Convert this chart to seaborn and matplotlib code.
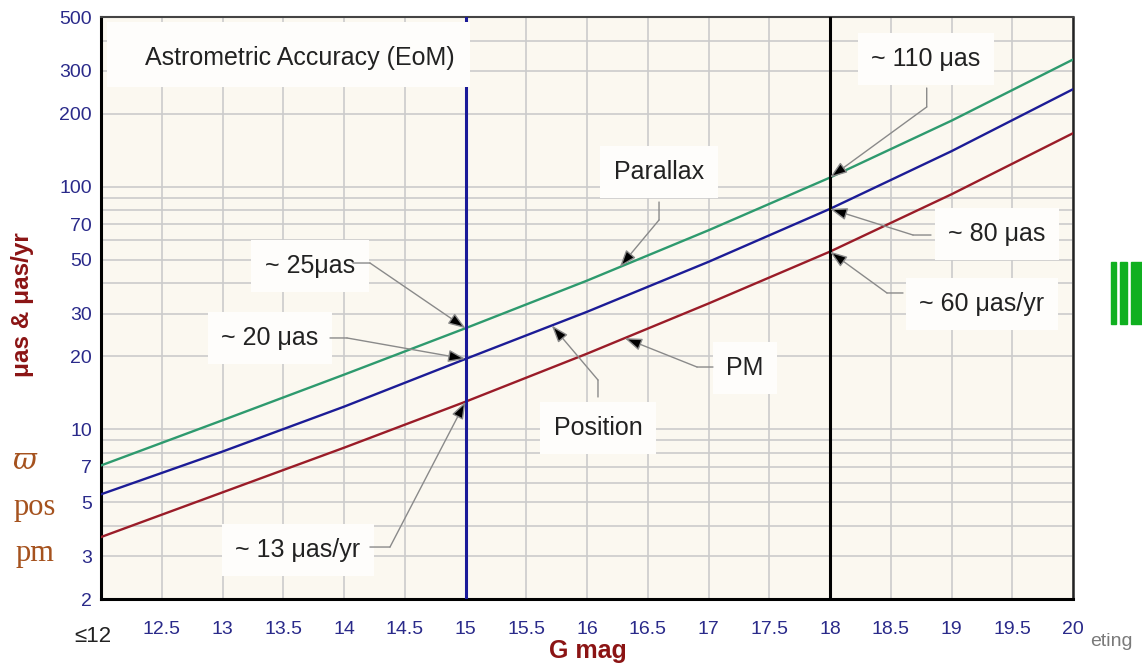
import numpy as np
import pandas as pd
import matplotlib
matplotlib.use("Agg")
import matplotlib.pyplot as plt
from matplotlib.patches import Rectangle
from matplotlib.ticker import FixedLocator, NullFormatter
import seaborn as sns

# ---------------- data ----------------
g_mag = [12, 13, 14, 15, 16, 17, 18, 19, 20]
parallax = [7.1, 10.9, 16.8, 26.1, 41, 66.1, 109, 187, 334]
position = [5.4, 8.1, 12.4, 19.5, 30.5, 49, 81, 140, 252]
proper_motion = [3.6, 5.5, 8.4, 13, 20.5, 33, 54, 93, 166]

series_names = ["Parallax", "Position", "PM"]
series_colors = ["#2e9a6e", "#1c1c96", "#9a1c28"]

y_ticks = [2, 3, 5, 7, 10, 20, 30, 50, 70, 100, 200, 300, 500]
x_ticks = [12, 12.5, 13, 13.5, 14, 14.5, 15, 15.5, 16, 16.5, 17, 17.5, 18, 18.5, 19, 19.5, 20]
x_tick_labels = [""] + ["12.5", "13", "13.5", "14", "14.5", "15", "15.5", "16", "16.5",
                        "17", "17.5", "18", "18.5", "19", "19.5", "20"]
mark_blue_g = 15
mark_black_g = 18

df = pd.DataFrame({
    "G": g_mag * 3,
    "sigma": parallax + position + proper_motion,
    "quantity": ["Parallax"] * len(g_mag) + ["Position"] * len(g_mag) + ["PM"] * len(g_mag),
})
series_values = {"Parallax": parallax, "Position": position, "PM": proper_motion}

# ---------------- figure ----------------
sns.set_theme(style="white")
plt.rcParams["font.family"] = ["Liberation Sans", "DejaVu Sans"]

fig = plt.figure(figsize=(11.42, 6.63), dpi=100)
fig.patch.set_facecolor("white")
ax = fig.add_axes([101 / 1142, 1 - 599 / 663, 972 / 1142, 582 / 663])
ax.set_facecolor("#fbf8f0")

sns.lineplot(data=df, x="G", y="sigma", hue="quantity", hue_order=series_names,
             palette=series_colors, legend=False, ax=ax, linewidth=1.7, zorder=3)

ax.set_yscale("log")
ax.set_xlim(12, 20)
ax.set_ylim(2, 500)

ax.yaxis.set_major_locator(FixedLocator(y_ticks))
ax.set_yticklabels([str(v) for v in y_ticks])
minor = [v * d for d in (1, 10, 100) for v in range(2, 10) if v * d <= 500]
ax.yaxis.set_minor_locator(FixedLocator(minor))
ax.yaxis.set_minor_formatter(NullFormatter())
ax.set_xticks(x_ticks)
ax.set_xticklabels(x_tick_labels)

ax.grid(True, which="both", axis="y", color="#cbcbcb", lw=1.2, zorder=0)
ax.grid(True, which="major", axis="x", color="#cbcbcb", lw=1.2, zorder=0)
ax.set_axisbelow(True)

tick_col = "#2a2a8a"
ax.tick_params(axis="both", which="both", length=0, labelcolor=tick_col, labelsize=14)
ax.tick_params(axis="x", pad=16)
ax.tick_params(axis="y", pad=6.5)
ax.set_xlabel("")
ax.set_ylabel("")

for side, lw, col in [("left", 2.2, "black"), ("bottom", 2.2, "black"),
                      ("top", 1.5, "#444444"), ("right", 1.8, "#222222")]:
    ax.spines[side].set_visible(True)
    ax.spines[side].set_linewidth(lw)
    ax.spines[side].set_color(col)

ax.axvline(mark_blue_g, color="#1a1a99", lw=2.2, zorder=4)
ax.axvline(mark_black_g, color="black", lw=2.2, zorder=4)


def curve_at(name, g):
    return float(10 ** np.interp(g, g_mag, np.log10(series_values[name])))


box_fc = "#fefdfb"
box = dict(boxstyle="square,pad=0.55", fc=box_fc, ec="none")
txt_kw = dict(fontsize=18, color="#222222", ha="center", va="center",
              transform=ax.transAxes, zorder=8, bbox=box)

# title box (covers the top of the G=15 line as in the original)
ax.add_patch(Rectangle((0.0062, 0.8797), 0.3735, 0.1117, transform=ax.transAxes,
                       fc=box_fc, ec="none", zorder=7))
ax.text(0.2047, 0.9296, "Astrometric Accuracy (EoM)", fontsize=18, color="#222222",
        ha="center", va="center", transform=ax.transAxes, zorder=8)

# label, text (axes frac), leader start, elbow (axes frac), series, target G
labels = [
    ("~ 110 μas", (0.8488, 0.9278), (0.8495, 0.878), (0.8495, 0.8454), "Parallax", 18.0),
    ("Parallax", (0.5741, 0.7337), (0.5741, 0.6821), (0.5741, 0.6512), "Parallax", 16.27),
    ("~ 25μas", (0.2150, 0.5722), (0.2593, 0.5773), (0.2767, 0.5773), "Parallax", 15.0),
    ("~ 20 μas", (0.1739, 0.4485), (0.2356, 0.4485), (0.2531, 0.4485), "Position", 15.0),
    ("~ 13 μas/yr", (0.2027, 0.0842), (0.2767, 0.0893), (0.2973, 0.0893), "PM", 15.0),
    ("~ 80 μas", (0.9218, 0.6271), (0.8539, 0.6254), (0.8354, 0.6254), "Position", 18.0),
    ("~ 60 μas/yr", (0.9064, 0.5069), (0.8251, 0.5258), (0.8086, 0.5258), "PM", 18.0),
    ("PM", (0.6626, 0.3969), (0.6296, 0.3986), (0.6132, 0.3986), "PM", 16.31),
    ("Position", (0.5113, 0.2938), (0.5113, 0.3471), (0.5113, 0.3763), "Position", 15.71),
]

for text, tpos, start, elbow, name, tg in labels:
    ax.text(tpos[0], tpos[1], text, **txt_kw)
    ax.annotate("", xy=elbow, xycoords="axes fraction", xytext=start,
                textcoords="axes fraction",
                arrowprops=dict(arrowstyle="-", color="#8a8a8a", lw=1.0,
                                shrinkA=0, shrinkB=0), zorder=9)
    ax.annotate("", xy=(tg, curve_at(name, tg)), xycoords="data", xytext=elbow,
                textcoords="axes fraction",
                arrowprops=dict(arrowstyle="-|>,head_length=0.7,head_width=0.25",
                                ec="#8a8a8a", fc="black", lw=1.0, mutation_scale=15,
                                shrinkA=0, shrinkB=0), zorder=9)

# ---------------- outside texts ----------------
fig.text(22 / 1142, 1 - 305 / 663, "μas & μas/yr", rotation=90, ha="center", va="center",
         fontsize=17.5, fontweight="bold", color="#8b1414")
fig.text(588 / 1142, 1 - 651 / 663, "G mag", ha="center", va="center",
         fontsize=18, fontweight="bold", color="#8b1414")
fig.text(93 / 1142, 1 - 637 / 663, "≤12", ha="center", va="center",
         fontsize=16, color="#222222")
serif = ["Liberation Serif", "DejaVu Serif"]
brown = "#a5521e"
fig.text(24 / 1142, 1 - 461 / 663, "ϖ", ha="center", va="center", fontsize=21,
         color=brown, family=["DejaVu Serif"], style="italic")
fig.text(35 / 1142, 1 - 507 / 663, "pos", ha="center", va="center", fontsize=22,
         color=brown, family=serif)
fig.text(35 / 1142, 1 - 554 / 663, "pm", ha="center", va="center", fontsize=22,
         color=brown, family=serif)
fig.text(1090 / 1142, 1 - 642 / 663, "eting", ha="left", va="center", fontsize=14,
         color="#7a7a7a")

for x0, w in [(1111, 5), (1120, 7), (1131, 11)]:
    fig.patches.append(Rectangle((x0 / 1142, 1 - 324 / 663), w / 1142, 62 / 663,
                                 transform=fig.transFigure, color="#10b020", zorder=1))

fig.savefig("out.png", dpi=100)
